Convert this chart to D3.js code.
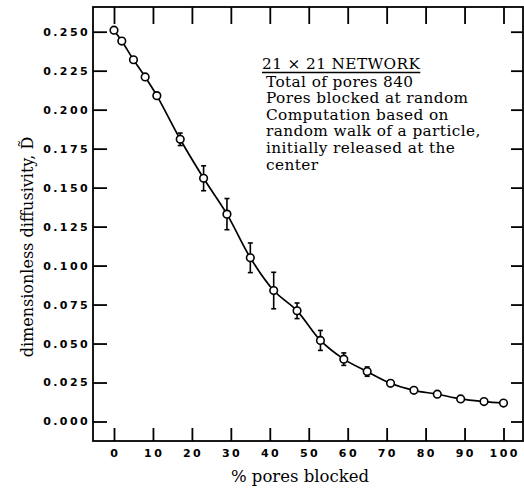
<!DOCTYPE html>
<html>
<head>
<meta charset="utf-8">
<script src="https://cdn.jsdelivr.net/npm/d3@7"></script>
<style>
  html, body { margin: 0; padding: 0; background: #fff; }
  svg { display: block; }
</style>
</head>
<body>
<svg id="chart" width="524" height="492"></svg>
<script>
// % of pores blocked and the resulting dimensionless diffusivity
const blockedPct  = [0, 2, 5, 8, 11, 17, 23, 29, 35, 41, 47, 53, 59, 65, 71, 77, 83, 89, 95, 100];
const diffusivity = [0.251, 0.244, 0.232, 0.221, 0.209, 0.181, 0.156, 0.133, 0.105, 0.084, 0.071, 0.052, 0.040, 0.032, 0.0245, 0.020, 0.0175, 0.0145, 0.0128, 0.0118];
// half-length of the scatter bar on each point (0 = hidden inside the marker)
const spread      = [0, 0, 0, 0, 0, 0.004, 0.008, 0.010, 0.0095, 0.0117, 0.005, 0.0064, 0.004, 0.003, 0, 0, 0, 0, 0, 0];

const xTicks = [0, 10, 20, 30, 40, 50, 60, 70, 80, 90, 100];
const yTicks = [0, 0.025, 0.05, 0.075, 0.1, 0.125, 0.15, 0.175, 0.2, 0.225, 0.25];

const xTitle = "% pores blocked";
const yTitle = "dimensionless diffusivity, D\u0303";
const noteHead = "21 \u00d7 21 NETWORK";
const noteLines = [
  "Total of pores 840",
  "Pores blocked at random",
  "Computation based on",
  "random walk of a particle,",
  "initially released at the",
  "center"
];

const svg = d3.select("#chart");
const frame = { left: 93, right: 523, top: 7, bottom: 441 };

const x = d3.scaleLinear().domain([0, 100]).range([114, 503.5]);
const y = d3.scaleLinear().domain([0, 0.25]).range([421.5, 31.7]);

const tickFont = "'DejaVu Sans', sans-serif";
const serif = "'DejaVu Serif', serif";

// inward ticks on all four sides
const axes = [
  { gen: d3.axisRight(y).tickValues(yTicks).tickSize(14).tickFormat(""), at: `translate(${frame.left},0)` },
  { gen: d3.axisLeft(y).tickValues(yTicks).tickSize(12).tickFormat(""), at: `translate(${frame.right},0)` },
  { gen: d3.axisTop(x).tickValues(xTicks).tickSize(13).tickFormat(""), at: `translate(0,${frame.bottom})` },
  { gen: d3.axisBottom(x).tickValues(xTicks).tickSize(17).tickFormat(""), at: `translate(0,${frame.top})` }
];
axes.forEach(a => {
  const g = svg.append("g").attr("transform", a.at).call(a.gen);
  g.select(".domain").remove();
  g.selectAll(".tick line").attr("stroke", "#000").attr("stroke-width", 1.8);
});

// plot frame
svg.append("rect")
  .attr("x", frame.left).attr("y", frame.top)
  .attr("width", frame.right - frame.left).attr("height", frame.bottom - frame.top)
  .attr("fill", "none").attr("stroke", "#000").attr("stroke-width", 1.8);

// tick labels
svg.append("g").selectAll("text").data(yTicks).join("text")
  .attr("x", frame.left - 3).attr("y", d => y(d))
  .attr("dy", "0.36em")
  .attr("text-anchor", "end")
  .attr("font-family", tickFont).attr("font-weight", "bold")
  .attr("font-size", 11).attr("letter-spacing", 2.4)
  .text(d => d3.format(".3f")(d));

svg.append("g").selectAll("text").data(xTicks).join("text")
  .attr("x", d => x(d) + 1.2).attr("y", 456.5)
  .attr("text-anchor", "middle")
  .attr("font-family", tickFont).attr("font-weight", "bold")
  .attr("font-size", 11).attr("letter-spacing", 2.4)
  .text(d => d);

// axis titles
svg.append("text")
  .attr("x", 300).attr("y", 482)
  .attr("text-anchor", "middle")
  .attr("font-family", serif).attr("font-size", 16.5)
  .text(xTitle);

svg.append("text")
  .attr("transform", "translate(33,247) rotate(-90)")
  .attr("text-anchor", "middle")
  .attr("font-family", serif).attr("font-size", 16)
  .text(yTitle);

// smooth trend curve through the points
const pts = blockedPct.map((p, i) => [p, diffusivity[i]]);
svg.append("path")
  .datum(pts)
  .attr("fill", "none").attr("stroke", "#000").attr("stroke-width", 1.7)
  .attr("d", d3.line().x(d => x(d[0])).y(d => y(d[1])).curve(d3.curveCatmullRom.alpha(0.5)));

// scatter bars with short caps
const bars = svg.append("g").attr("stroke", "#000").attr("stroke-width", 1.6);
blockedPct.forEach((p, i) => {
  if (!spread[i]) return;
  const cx = x(p), y0 = y(diffusivity[i] - spread[i]), y1 = y(diffusivity[i] + spread[i]);
  bars.append("line").attr("x1", cx).attr("x2", cx).attr("y1", y0).attr("y2", y1);
  bars.append("line").attr("x1", cx - 2.5).attr("x2", cx + 2.5).attr("y1", y0).attr("y2", y0);
  bars.append("line").attr("x1", cx - 2.5).attr("x2", cx + 2.5).attr("y1", y1).attr("y2", y1);
});

// open circle markers
svg.append("g").selectAll("circle").data(pts).join("circle")
  .attr("cx", d => x(d[0])).attr("cy", d => y(d[1]))
  .attr("r", 3.8)
  .attr("fill", "#fff").attr("stroke", "#000").attr("stroke-width", 1.6);

// annotation block
const note = svg.append("g").attr("font-family", serif).attr("font-size", 15.3)
  .attr("letter-spacing", 0.4).attr("fill", "#000");
const head = note.append("text").attr("x", 262).attr("y", 68.5).text(noteHead);
const hw = head.node().getComputedTextLength();
note.append("line")
  .attr("x1", 262).attr("x2", 262 + hw).attr("y1", 72.5).attr("y2", 72.5)
  .attr("stroke", "#000").attr("stroke-width", 1.3);
note.selectAll("text.line").data(noteLines).join("text")
  .attr("class", "line")
  .attr("x", 266).attr("y", (d, i) => 86.5 + i * 16.6)
  .text(d => d);
</script>
</body>
</html>
